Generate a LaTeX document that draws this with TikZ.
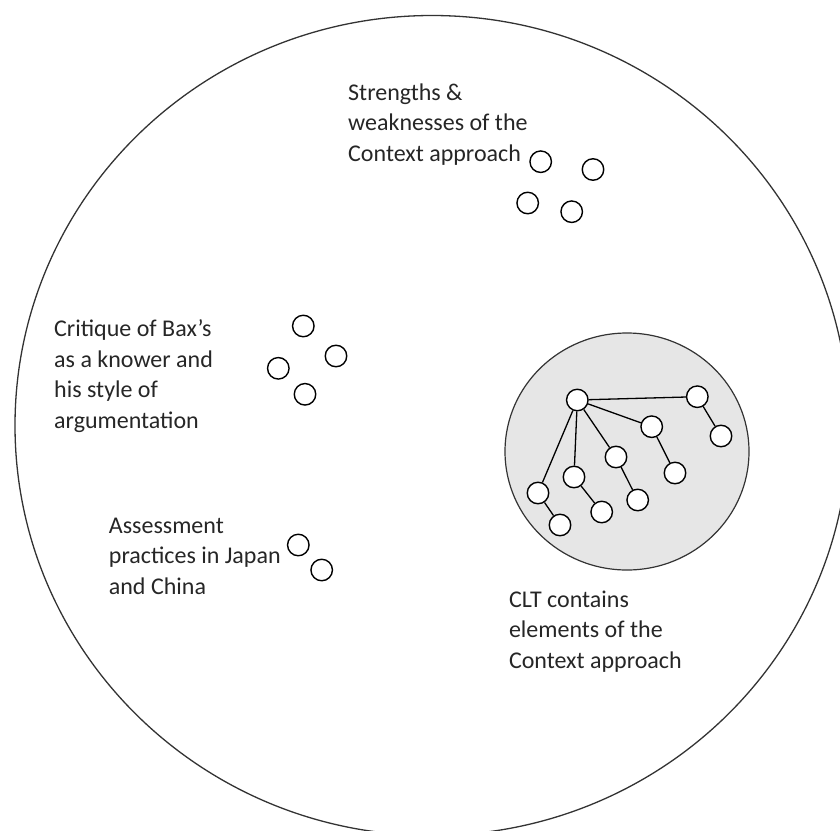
\documentclass[tikz,border=0pt]{standalone}
\usepackage{fontspec}
\setmainfont{Carlito}
\definecolor{inkgray}{HTML}{262626}
\definecolor{rimgray}{HTML}{333333}
\definecolor{panelgray}{HTML}{E6E6E6}
\begin{document}
\begin{tikzpicture}[x=1pt,y=-1pt,
  % multi-line captions are placed by the baseline of their last line
  caption/.style={anchor=base west, align=left, inner sep=0pt, text=inkgray,
    font=\fontsize{24}{30.5}\selectfont},
  dot/.style={circle, draw=black, line width=1.4pt, fill=white,
    minimum size=21.5pt, inner sep=0pt},
  link/.style={line width=1.3pt, draw=black}]
\useasboundingbox (0,0) rectangle (840,830);

% outer boundary, partly running off the page
\begin{scope}
  \clip (0,0) rectangle (840,830);
  \draw[line width=1.3pt, draw=rimgray] (432,425.5) ellipse [x radius=417, y radius=410];
\end{scope}

% shaded region holding the tree
\draw[line width=1.2pt, draw=rimgray, fill=panelgray] (627,451.5) ellipse [x radius=122, y radius=118.5];

% captions
\node[caption] (strengths) at (348,161) {Strengths \&\\weaknesses of the\\Context approach};
\node[caption] (critique) at (54,428) {Critique of Bax’s\\as a knower and\\his style of\\argumentation};
\node[caption] (assessment) at (108.7,594) {Assessment\\practices in Japan\\and China};
\node[caption] (clt) at (508.8,668) {CLT contains\\elements of the\\Context approach};

% loose idea clusters
\node[dot] (s1) at (540.7,161.7) {};
\node[dot] (s2) at (593,169.5) {};
\node[dot] (s3) at (527.7,203) {};
\node[dot] (s4) at (571.7,211.7) {};

\node[dot] (c1) at (303.3,326) {};
\node[dot] (c2) at (336,356) {};
\node[dot] (c3) at (278.3,368.3) {};
\node[dot] (c4) at (305,394.3) {};

\node[dot] (a1) at (298.3,545) {};
\node[dot] (a2) at (321.7,570) {};

% connected tree
\node[dot] (root) at (577.3,400) {};
\node[dot] (b) at (697.3,396.7) {};
\node[dot] (bc) at (721,436) {};
\node[dot] (d) at (651.7,426.7) {};
\node[dot] (de) at (675,473) {};
\node[dot] (f) at (616,457) {};
\node[dot] (fg) at (637.7,500) {};
\node[dot] (h) at (574,477) {};
\node[dot] (hi) at (601.7,512) {};
\node[dot] (j) at (538,493) {};
\node[dot] (jk) at (560,525) {};

\foreach \u/\v in {root/b, b/bc, root/d, d/de, root/f, f/fg, root/h, h/hi, root/j, j/jk}
  \draw[link] (\u) -- (\v);
\end{tikzpicture}
\end{document}
